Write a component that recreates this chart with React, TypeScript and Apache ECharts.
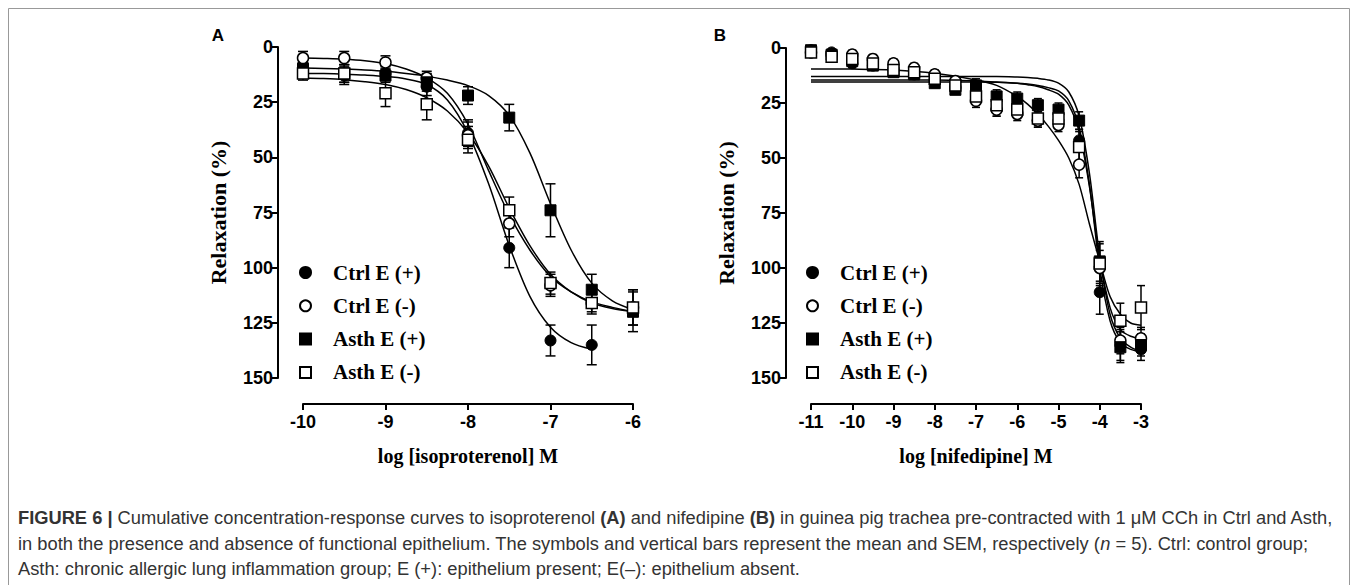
import React, { useEffect, useRef } from 'react';
import * as echarts from 'echarts';

const serif = "'Liberation Serif', 'Times New Roman', serif";
const sans = "'Liberation Sans', Arial, sans-serif";

// ---------- Panel A : isoproterenol ----------
const xA = [-10, -9.5, -9, -8.5, -8, -7.5, -7, -6.5, -6];
const ctrlPlusA = [8, 13, 12, 18, 39, 91, 133, 135];
const ctrlPlusSemA = [4, 4, 3, 4, 6, 9, 7, 9];
const ctrlMinusA = [5, 5, 7, 14, 40, 80, 108, 116, 118];
const ctrlMinusSemA = [3, 3, 3, 3, 6, 6, 5, 4, 8];
const asthPlusA = [10, 12, 13, 16, 22, 32, 74, 110, 120];
const asthPlusSemA = [4, 4, 3, 4, 4, 6, 12, 7, 9];
const asthMinusA = [12, 12, 21, 26, 42, 74, 107, 116, 118];
const asthMinusSemA = [3, 4, 6, 7, 6, 6, 5, 5, 8];

const fitXA = [-10, -9.75, -9.5, -9.25, -9, -8.75, -8.5, -8.25, -8, -7.75, -7.5, -7.25, -7, -6.75, -6.5, -6.25, -6];
const ctrlPlusFitA = [12, 12, 12.3, 12.7, 13.3, 14.5, 17, 24, 39, 62, 90, 113, 127, 134, 137];
const ctrlMinusFitA = [5, 5.2, 5.5, 6.2, 7.5, 10, 14, 21, 35, 56, 76, 92, 104, 111, 115.5, 118, 120];
const asthPlusFitA = [9.5, 9.7, 10, 10.4, 11, 12, 13.2, 15, 17.5, 22, 31, 48, 71, 92, 107, 115, 119];
const asthMinusFitA = [14, 14.3, 14.8, 15.7, 17, 19.3, 23, 29, 39, 54, 73, 90, 103, 111, 116, 118.5, 120];

// ---------- Panel B : nifedipine ----------
const xB = [-11, -10.5, -10, -9.5, -9, -8.5, -8, -7.5, -7, -6.5, -6, -5.5, -5, -4.5, -4, -3.5, -3];
const ctrlPlusB = [1, 2, 7, 8, 10, 12, 15, 18, 20, 28, 29, 33, 33, 42, 111, 135, 137];
const ctrlPlusSemB = [1, 1, 2, 2, 2, 2, 2, 2, 3, 3, 3, 3, 3, 4, 10, 7, 5];
const ctrlMinusB = [2, 3, 3, 5, 7, 9, 12, 15, 24, 28, 30, 33, 35, 53, 100, 133, 132];
const ctrlMinusSemB = [1, 1, 2, 2, 2, 2, 2, 2, 3, 3, 3, 3, 3, 6, 8, 6, 5];
const asthPlusB = [1, 3, 6, 8, 11, 12, 16, 19, 17, 22, 23, 26, 28, 33, 97, 136, 135];
const asthPlusSemB = [1, 1, 2, 2, 2, 2, 2, 2, 3, 3, 3, 3, 3, 4, 9, 7, 5];
const asthMinusB = [2, 4, 5, 7, 10, 11, 14, 17, 22, 26, 28, 32, 32, 45, 98, 124, 118];
const asthMinusSemB = [1, 1, 2, 2, 2, 2, 2, 2, 3, 3, 3, 3, 3, 8, 9, 8, 10];

const fitXB = [-11, -10, -9, -8, -7, -6.5, -6, -5.75, -5.5, -5.25, -5, -4.75, -4.5, -4.25, -4, -3.75, -3.5, -3.25, -3];
const ctrlPlusFitB = [15.5, 15.5, 15.5, 15.5, 15.5, 15.6, 16, 16.4, 17, 18, 19.5, 24, 36, 62, 100, 124, 134, 137, 138];
const ctrlMinusFitB = [14.5, 14.5, 14.5, 14.5, 15, 15.5, 16, 16.7, 17.5, 19, 21, 26, 38, 63, 96, 118, 128, 131, 132];
const asthPlusFitB = [13, 13, 13, 13, 13, 13, 13.2, 13.4, 13.8, 14.5, 16, 20, 31, 57, 95, 121, 132, 136, 138];
const asthMinusFitB = [9.5, 9.6, 10, 11.5, 14.5, 17, 22, 25.5, 30, 35.5, 42, 50, 62, 80, 97, 113, 121, 125, 126];

const yTicks = [0, 25, 50, 75, 100, 125, 150];
const groupNames = ['Ctrl E (+)', 'Ctrl E (-)', 'Asth E (+)', 'Asth E (-)'];
const groupSymbols = ['circle', 'circle', 'rect', 'rect'];
const groupFilled = [true, false, true, false];

function buildSeries(idx: number, x: number[], means: number[][], sems: number[][], fitX: number[], fits: number[][], capW: number, symSize: number) {
  const out: any[] = [];
  means.forEach((m, g) => {
    out.push({
      type: 'custom',
      name: groupNames[g] + ' sem ' + idx,
      xAxisIndex: idx,
      yAxisIndex: idx,
      z: 2,
      silent: true,
      data: m.map((v, i) => [x[i], v - sems[g][i], v + sems[g][i]]),
      renderItem: (params: any, api: any) => {
        const xv = api.value(0);
        const p1 = api.coord([xv, api.value(1)]);
        const p2 = api.coord([xv, api.value(2)]);
        const st = { stroke: '#000', lineWidth: 1.5 };
        return {
          type: 'group',
          children: [
            { type: 'line', shape: { x1: p1[0], y1: p1[1], x2: p2[0], y2: p2[1] }, style: st },
            { type: 'line', shape: { x1: p1[0] - capW, y1: p1[1], x2: p1[0] + capW, y2: p1[1] }, style: st },
            { type: 'line', shape: { x1: p2[0] - capW, y1: p2[1], x2: p2[0] + capW, y2: p2[1] }, style: st },
          ],
        };
      },
    });
  });
  fits.forEach((f, g) => {
    out.push({
      type: 'line',
      name: groupNames[g] + ' fit ' + idx,
      xAxisIndex: idx,
      yAxisIndex: idx,
      z: 3,
      showSymbol: false,
      smooth: 0.3,
      silent: true,
      lineStyle: { color: '#000', width: 1.5 },
      data: f.map((v, i) => [fitX[i], v]),
    });
  });
  means.forEach((m, g) => {
    out.push({
      type: 'scatter',
      name: groupNames[g],
      xAxisIndex: idx,
      yAxisIndex: idx,
      z: 5,
      symbol: groupSymbols[g],
      symbolSize: symSize,
      itemStyle: groupFilled[g]
        ? { color: '#000', borderColor: '#000', borderWidth: 1, opacity: 1 }
        : { color: '#fff', borderColor: '#000', borderWidth: 1.5, opacity: 1 },
      data: m.map((v, i) => [x[i], v]),
    });
  });
  return out;
}

const axisLine = { show: true, onZero: false, lineStyle: { color: '#000', width: 2 } };
const axisTick = { show: true, length: 6, lineStyle: { color: '#000', width: 2 } };
const tickLabel = { color: '#000', fontFamily: sans, fontWeight: 'bold', fontSize: 18 };
const nameStyle = { color: '#000', fontFamily: serif, fontWeight: 'bold', fontSize: 20 };

function xAxis(idx: number, min: number, max: number, name: string) {
  return {
    type: 'value', gridIndex: idx, min, max, interval: 1, offset: 26, position: 'bottom',
    name, nameLocation: 'middle', nameGap: 42, nameTextStyle: nameStyle,
    axisLine, axisTick, axisLabel: { ...tickLabel, margin: 9 }, splitLine: { show: false },
  };
}
function yAxis(idx: number) {
  return {
    type: 'value', gridIndex: idx, min: yTicks[0], max: yTicks[yTicks.length - 1], interval: 25,
    inverse: true, offset: 25, position: 'left',
    name: 'Relaxation (%)', nameLocation: 'middle', nameGap: 49, nameRotate: 90,
    nameTextStyle: { ...nameStyle, fontSize: 22 },
    axisLine, axisTick, axisLabel: { ...tickLabel, margin: 5 }, splitLine: { show: false },
  };
}

function legend(left: number) {
  return {
    orient: 'vertical', left, top: 257, itemWidth: 11, itemHeight: 11, itemGap: 12.3, selectedMode: false,
    textStyle: { color: '#000', fontFamily: serif, fontWeight: 'bold', fontSize: 21, lineHeight: 21, padding: [0, 0, 0, 17] },
    data: groupNames.map((n, i) => ({ name: n, icon: groupSymbols[i] })),
  };
}

const cap1 = '{b|FIGURE 6 |} Cumulative concentration-response curves to isoproterenol {b|(A)} and nifedipine {b|(B)} in guinea pig trachea pre-contracted with 1 \u03bcM CCh in Ctrl and Asth,';
const cap2 = 'in both the presence and absence of functional epithelium. The symbols and vertical bars represent the mean and SEM, respectively ({i|n} = 5). Ctrl: control group;';
const cap3 = 'Asth: chronic allergic lung inflammation group; E (+): epithelium present; E(\u2013): epithelium absent.';

export default function App() {
  const ref = useRef<HTMLDivElement>(null);
  useEffect(() => {
    if (!ref.current) return;
    const chart = echarts.init(ref.current, undefined, { renderer: 'svg' });
    const capSize = 18.3;
    const rich = {
      b: { fontFamily: sans, fontSize: capSize, fontWeight: 'bold', fill: '#333' },
      i: { fontFamily: sans, fontSize: capSize, fontStyle: 'italic', fill: '#333' },
    };
    const capText = (t: string, y: number) => ({
      type: 'text', x: 18, y, style: { text: t, rich, fontFamily: sans, fontSize: capSize, fill: '#333', verticalAlign: 'middle' },
    });
    chart.setOption({
      animation: false,
      backgroundColor: '#fff',
      grid: [
        { left: 303, top: 47, width: 330, height: 331 },
        { left: 811, top: 48, width: 330, height: 330 },
      ],
      xAxis: [xAxis(0, -10, -6, 'log [isoproterenol] M'), xAxis(1, -11, -3, 'log [nifedipine] M')],
      yAxis: [yAxis(0), yAxis(1)],
      legend: [legend(294), legend(801)],
      series: [
        ...buildSeries(0, xA, [ctrlPlusA, ctrlMinusA, asthPlusA, asthMinusA], [ctrlPlusSemA, ctrlMinusSemA, asthPlusSemA, asthMinusSemA], fitXA, [ctrlPlusFitA, ctrlMinusFitA, asthPlusFitA, asthMinusFitA], 5, 11),
        ...buildSeries(1, xB, [ctrlPlusB, ctrlMinusB, asthPlusB, asthMinusB], [ctrlPlusSemB, ctrlMinusSemB, asthPlusSemB, asthMinusSemB], fitXB, [ctrlPlusFitB, ctrlMinusFitB, asthPlusFitB, asthMinusFitB], 4, 11),
      ],
      graphic: [
        { type: 'rect', shape: { x: 8.5, y: 8.5, width: 1341, height: 600 }, style: { fill: 'none', stroke: '#999', lineWidth: 1 }, silent: true },
        { type: 'text', x: 218, y: 35, style: { text: 'A', fontFamily: sans, fontWeight: 'bold', fontSize: 17, fill: '#000', align: 'center', verticalAlign: 'middle' } },
        { type: 'text', x: 720, y: 35, style: { text: 'B', fontFamily: sans, fontWeight: 'bold', fontSize: 17, fill: '#000', align: 'center', verticalAlign: 'middle' } },
        capText(cap1, 517),
        capText(cap2, 543),
        capText(cap3, 568),
      ],
    });
    return () => chart.dispose();
  }, []);
  return <div ref={ref} style={{ position: 'absolute', left: 0, top: 0, width: 1357, height: 585 }} />;
}
